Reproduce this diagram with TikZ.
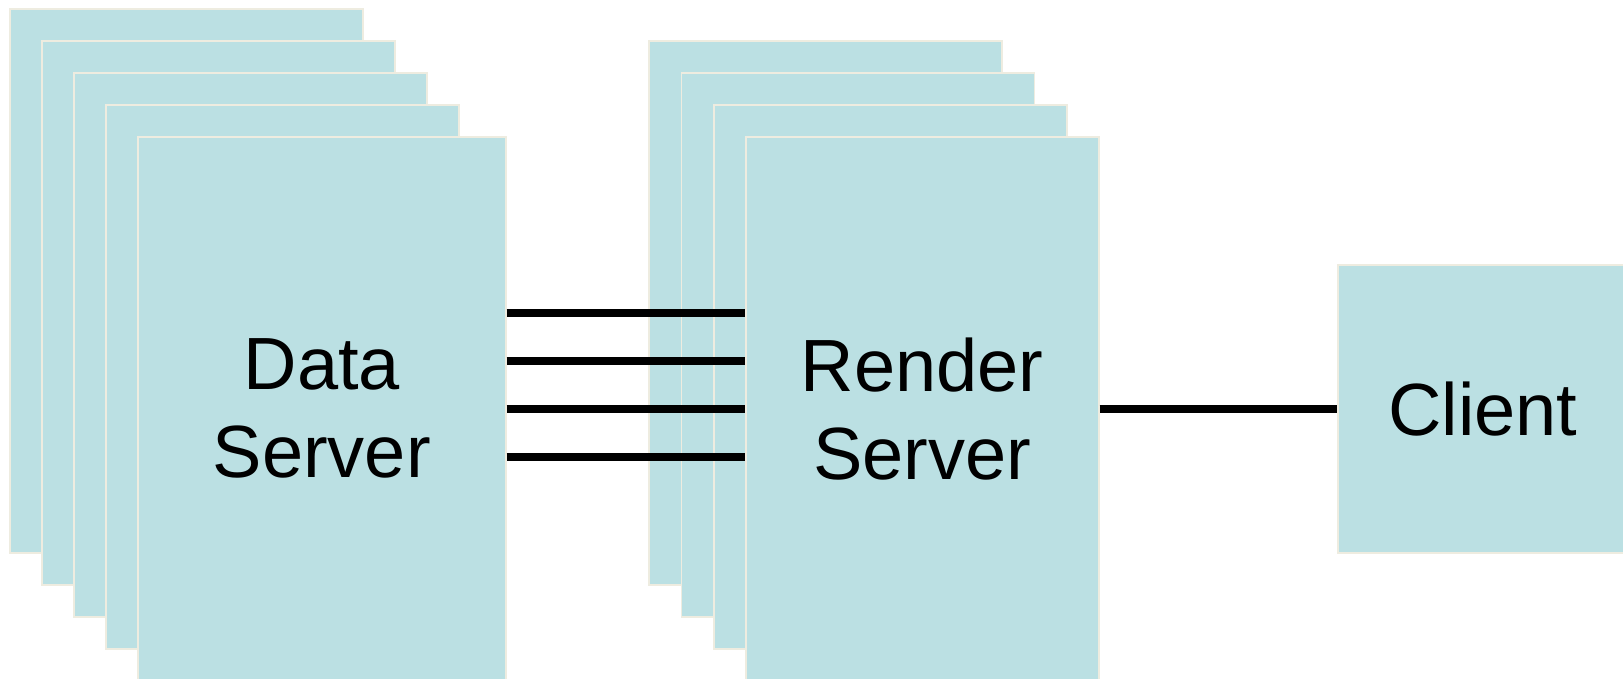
\documentclass[tikz,border=0pt]{standalone}
\usepackage{fontspec}
\setmainfont{Liberation Sans}

\begin{document}
\begin{tikzpicture}[x=1pt, y=-1pt,
    srvbox/.style={draw=boxedge, fill=boxfill, line width=1.6pt,
                   minimum height=544pt, inner sep=0pt, anchor=north west,
                   align=center, font=\fontsize{74}{88}\selectfont},
    link/.style={line width=7.5pt, black}]
    \definecolor{boxfill}{RGB}{187,224,227}
    \definecolor{boxedge}{RGB}{238,236,224}

    \useasboundingbox (0,0) rectangle (1623,679);
    \clip (0,0) rectangle (1623,679);

    % data server stack, back to front
    \foreach \i in {0,...,3}
        \node[srvbox, minimum width=353pt] (data\i) at (9+32*\i, 8+32*\i) {};
    \node[srvbox, minimum width=368pt] (data) at (137,136) {Data\\Server};

    % render server stack, back to front
    \foreach \i in {0,...,2}
        \node[srvbox, minimum width=353pt] (render\i) at (648+32.5*\i, 40+32*\i) {};
    \node[srvbox, minimum width=353pt] (render) at (745,136) {Render\\Server};

    % client
    \node[srvbox, minimum width=290pt, minimum height=288pt] (client) at (1337,264) {Client};

    % connections
    \foreach \s in {96,48,0,-48}
        \draw[link] ([yshift=\s pt]data.east) -- ([yshift=\s pt]render.west);
    \draw[link] (render) -- (client);
\end{tikzpicture}
\end{document}
